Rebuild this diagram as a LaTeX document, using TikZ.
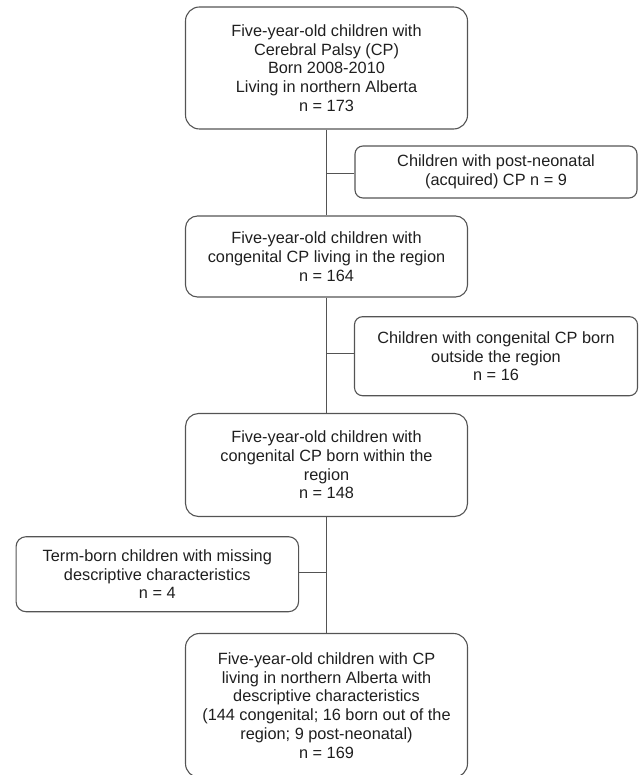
\documentclass[tikz,border=0pt]{standalone}
\usepackage{fontspec}
\setmainfont{Liberation Sans}
\definecolor{linegray}{gray}{0.33}
\definecolor{textgray}{gray}{0.12}
\begin{document}
\begin{tikzpicture}[x=1pt,y=-1pt,
  box/.style={draw=linegray, line width=1.1pt, align=center, text=textgray,
    font=\fontsize{16.3}{18.7}\selectfont, inner sep=0pt, minimum width=282pt},
  conn/.style={draw=linegray, line width=1.1pt}]
\clip (0,0) rectangle (639,775);
\useasboundingbox (0,0) rectangle (639,775);
\node[box, rounded corners=14pt, minimum height=122pt] (b1) at (326.5,68)
  {Five-year-old children with\\Cerebral Palsy (CP)\\Born 2008-2010\\Living in northern Alberta\\n = 173};
\node[box, rounded corners=8pt, minimum height=52pt] (b2) at (496,172)
  {Children with post-neonatal\\(acquired) CP n = 9};
\node[box, rounded corners=12pt, minimum height=81pt] (b3) at (326.5,256.5)
  {Five-year-old children with\\congenital CP living in the region\\n = 164};
\node[box, rounded corners=8pt, minimum width=283pt, minimum height=79pt] (b4) at (496,356.2)
  {Children with congenital CP born\\outside the region\\n = 16};
\node[box, rounded corners=13pt, minimum height=103pt] (b5) at (326.5,465)
  {Five-year-old children with\\congenital CP born within the\\region\\n = 148};
\node[box, rounded corners=10pt, minimum width=282.5pt, minimum height=75pt] (b6) at (157.3,574.2)
  {Term-born children with missing\\descriptive characteristics\\n = 4};
\node[box, rounded corners=14pt, minimum height=144pt] (b7) at (326.5,705.5)
  {Five-year-old children with CP\\living in northern Alberta with\\descriptive characteristics\\(144 congenital; 16 born out of the\\region; 9 post-neonatal)\\n = 169};
\draw[conn] (b1.south) -- (b3.north);
\draw[conn] (b3.south) -- (b5.north);
\draw[conn] (b5.south) -- (b7.north);
\draw[conn] ([yshift=-1.7pt]b2.west) -- ([yshift=-1.7pt]b2.west -| b1.south);
\draw[conn] ([yshift=3pt]b4.west) -- ([yshift=3pt]b4.west -| b3.south);
\draw[conn] ([yshift=2pt]b6.east) -- ([yshift=2pt]b6.east -| b5.north);
\end{tikzpicture}
\end{document}
